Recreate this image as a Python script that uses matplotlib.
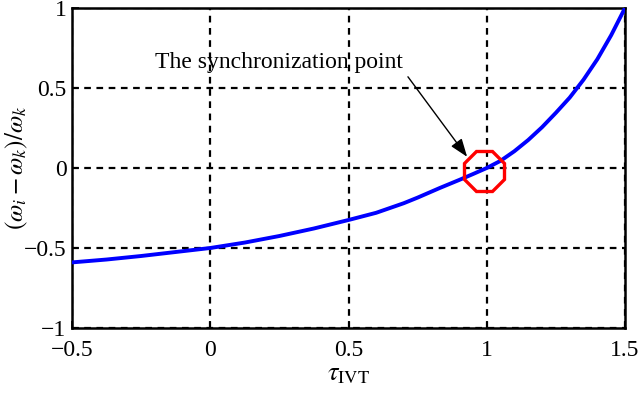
import matplotlib
matplotlib.use("Agg")
import matplotlib.pyplot as plt

# values
tau = [-0.5, -0.375, -0.25, -0.125, 0.0, 0.125, 0.25, 0.375, 0.5, 0.6, 0.7, 0.75,
       0.83, 0.9, 0.95, 1.0, 1.05, 1.1, 1.15, 1.2, 1.25, 1.3, 1.35, 1.4, 1.45, 1.5]
ratio = [-0.59, -0.572, -0.55, -0.525, -0.5, -0.466, -0.425, -0.378, -0.325, -0.28, -0.22, -0.185,
         -0.125, -0.075, -0.038, 0.0, 0.045, 0.105, 0.175, 0.255, 0.345, 0.44, 0.552, 0.68, 0.83, 1.0]
sync_x, sync_y = [0.99], [-0.02]
xticks = [-0.5, 0, 0.5, 1, 1.5]
xtick_labels = ["\u22120.5", "0", "0.5", "1", "1.5"]
yticks = [-1, -0.5, 0, 0.5, 1]
ytick_labels = ["\u22121", "\u22120.5", "0", "0.5", "1"]

plt.rcParams["font.family"] = ["Liberation Serif", "DejaVu Serif"]
plt.rcParams["mathtext.fontset"] = "stix"

fig = plt.figure(figsize=(6.4, 3.96), dpi=100)
ax = fig.add_axes([72 / 640, 68 / 396, 553 / 640, 320 / 396])

ax.plot(tau, ratio, color="#0000ff", lw=2.8, zorder=3, solid_joinstyle="round")
ax.plot(sync_x, sync_y, marker="8", ms=31, mfc="none", mec="#ff0000", mew=2.4,
        ls="none", zorder=4)

ax.text(0.25, 0.66, "The synchronization point", fontsize=17, ha="center", va="center")
ax.annotate("", xy=(0.929, 0.07), xytext=(0.715, 0.57),
            arrowprops=dict(arrowstyle="-|>,head_length=1.1,head_width=0.4",
                            color="black", lw=1.0, shrinkA=0, shrinkB=0))

ax.set_xlim(-0.5, 1.5)
ax.set_ylim(-1, 1)
ax.set_xticks(xticks)
ax.set_xticklabels(xtick_labels)
ax.set_yticks(yticks)
ax.set_yticklabels(ytick_labels)
ax.tick_params(direction="in", labelsize=17, length=5, width=1.2)
ax.tick_params(axis="x", pad=9)
ax.tick_params(axis="y", pad=4)
ax.grid(True, color="black", ls=(0, (3, 2.5)), lw=1.6)
for s in ax.spines.values():
    s.set_linewidth(1.8)

ax.set_xlabel(r"$\tau_{\mathrm{IVT}}$", fontsize=19, labelpad=2)
ax.set_ylabel(r"$(\omega_i-\omega_k)/\omega_k$", fontsize=18, va="center")
ax.yaxis.set_label_coords(-0.1, 0.5)

fig.savefig("out.png", dpi=100)
